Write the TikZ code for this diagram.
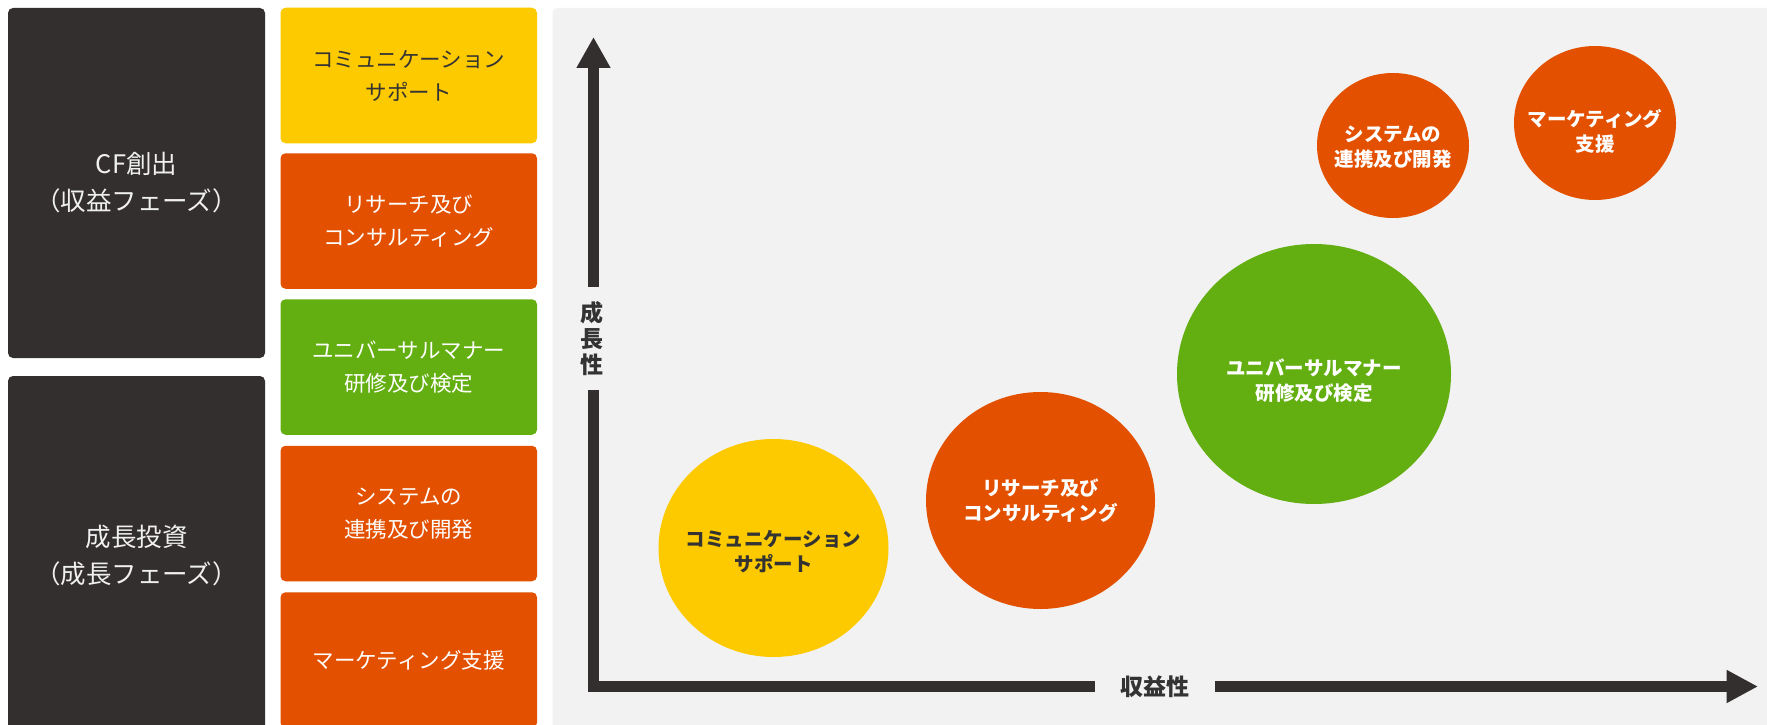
\documentclass[tikz,border=0pt]{standalone}
\usepackage{fontspec}
\setmainfont{Noto Sans CJK JP}
\usetikzlibrary{shapes.geometric,arrows.meta}
\definecolor{darkbg}{HTML}{332F2E}
\definecolor{cyellow}{HTML}{FDCA00}
\definecolor{corange}{HTML}{E35100}
\definecolor{cgreen}{HTML}{63AF11}
\definecolor{panel}{HTML}{F2F2F2}
\definecolor{ink}{HTML}{333333}
\begin{document}
\begin{tikzpicture}[x=1pt,y=-1pt,
  phase/.style={fill=darkbg, rounded corners=5pt, minimum width=257pt, inner sep=0pt,
    text=white!94!black, font=\fontsize{25.5}{37}\selectfont, align=center},
  item/.style={rounded corners=5pt, minimum width=256.5pt, minimum height=135.5pt, inner sep=0pt,
    text=white, font=\fontsize{21.5}{33}\selectfont, align=center},
  bubble/.style={ellipse, inner sep=0pt},
  btext/.style={text=white, inner sep=0pt, font=\bfseries\fontsize{19.5}{25}\selectfont, align=center},
  axis/.style={draw=darkbg, line width=11pt},
  axislabel/.style={text=ink, inner sep=0pt, font=\bfseries\fontsize{23}{26}\selectfont, align=center}
]
\clip (0,0) rectangle (1767,725);
\fill[white] (0,0) rectangle (1767,725);
% background panel
\fill[panel, rounded corners=5pt] (552.5,8) rectangle (1790,760);
% phase boxes
\node[phase, minimum height=350pt] (p1) at (136.5,183) {CF創出\\（収益フェーズ）};
\node[phase, minimum height=360pt] (p2) at (136.5,556) {成長投資\\（成長フェーズ）};
% items
\node[item, fill=cyellow, text=ink] (i1) at (408.75,75.5) {コミュニケーション\\サポート};
\node[item, fill=corange] (i2) at (408.75,221) {リサーチ及び\\コンサルティング};
\node[item, fill=cgreen] (i3) at (408.75,367) {ユニバーサルマナー\\研修及び検定};
\node[item, fill=corange] (i4) at (408.75,513.5) {システムの\\連携及び開発};
\node[item, fill=corange] (i5) at (408.75,660) {マーケティング支援};
% axes
\node[axislabel, minimum height=103pt] (ylab) at (592,338.5) {成\\長\\性};
\node[axislabel, minimum width=120pt] (xlab) at (1155,686.5) {収益性};
\coordinate (ybot) at (593.5,692);
\coordinate (ytop) at (593.5,37);
\coordinate (xleft) at (588,686.5);
\coordinate (xright) at (1758,686.5);
\draw[axis] (ybot) -- (ybot |- ylab.south);
\draw[axis, -{Triangle[width=32pt,length=31pt]}] (ytop |- ylab.north) -- (ytop);
\draw[axis] (xleft) -- (xlab.west);
\draw[axis, -{Triangle[width=31pt,length=31.5pt]}] (xlab.east) -- (xright);
% bubbles
\node[bubble, fill=cyellow, minimum width=230pt, minimum height=218pt,
  label={[btext, text=ink, yshift=-4pt]center:コミュニケーション\\サポート}] (b1) at (773.5,548) {};
\node[bubble, fill=corange, minimum width=229pt, minimum height=217pt,
  label={[btext]center:リサーチ及び\\コンサルティング}] (b2) at (1040.5,500.5) {};
\node[bubble, fill=cgreen, minimum width=274pt, minimum height=260pt,
  label={[btext, yshift=-7pt]center:ユニバーサルマナー\\研修及び検定}] (b3) at (1314,374) {};
\node[bubble, fill=corange, minimum width=152pt, minimum height=145pt,
  label={[btext, yshift=-2pt]center:システムの\\連携及び開発}] (b4) at (1393,145.5) {};
\node[bubble, fill=corange, minimum width=162pt, minimum height=154pt,
  label={[btext, yshift=-8pt]center:マーケティング\\支援}] (b5) at (1595,123) {};
\end{tikzpicture}
\end{document}
